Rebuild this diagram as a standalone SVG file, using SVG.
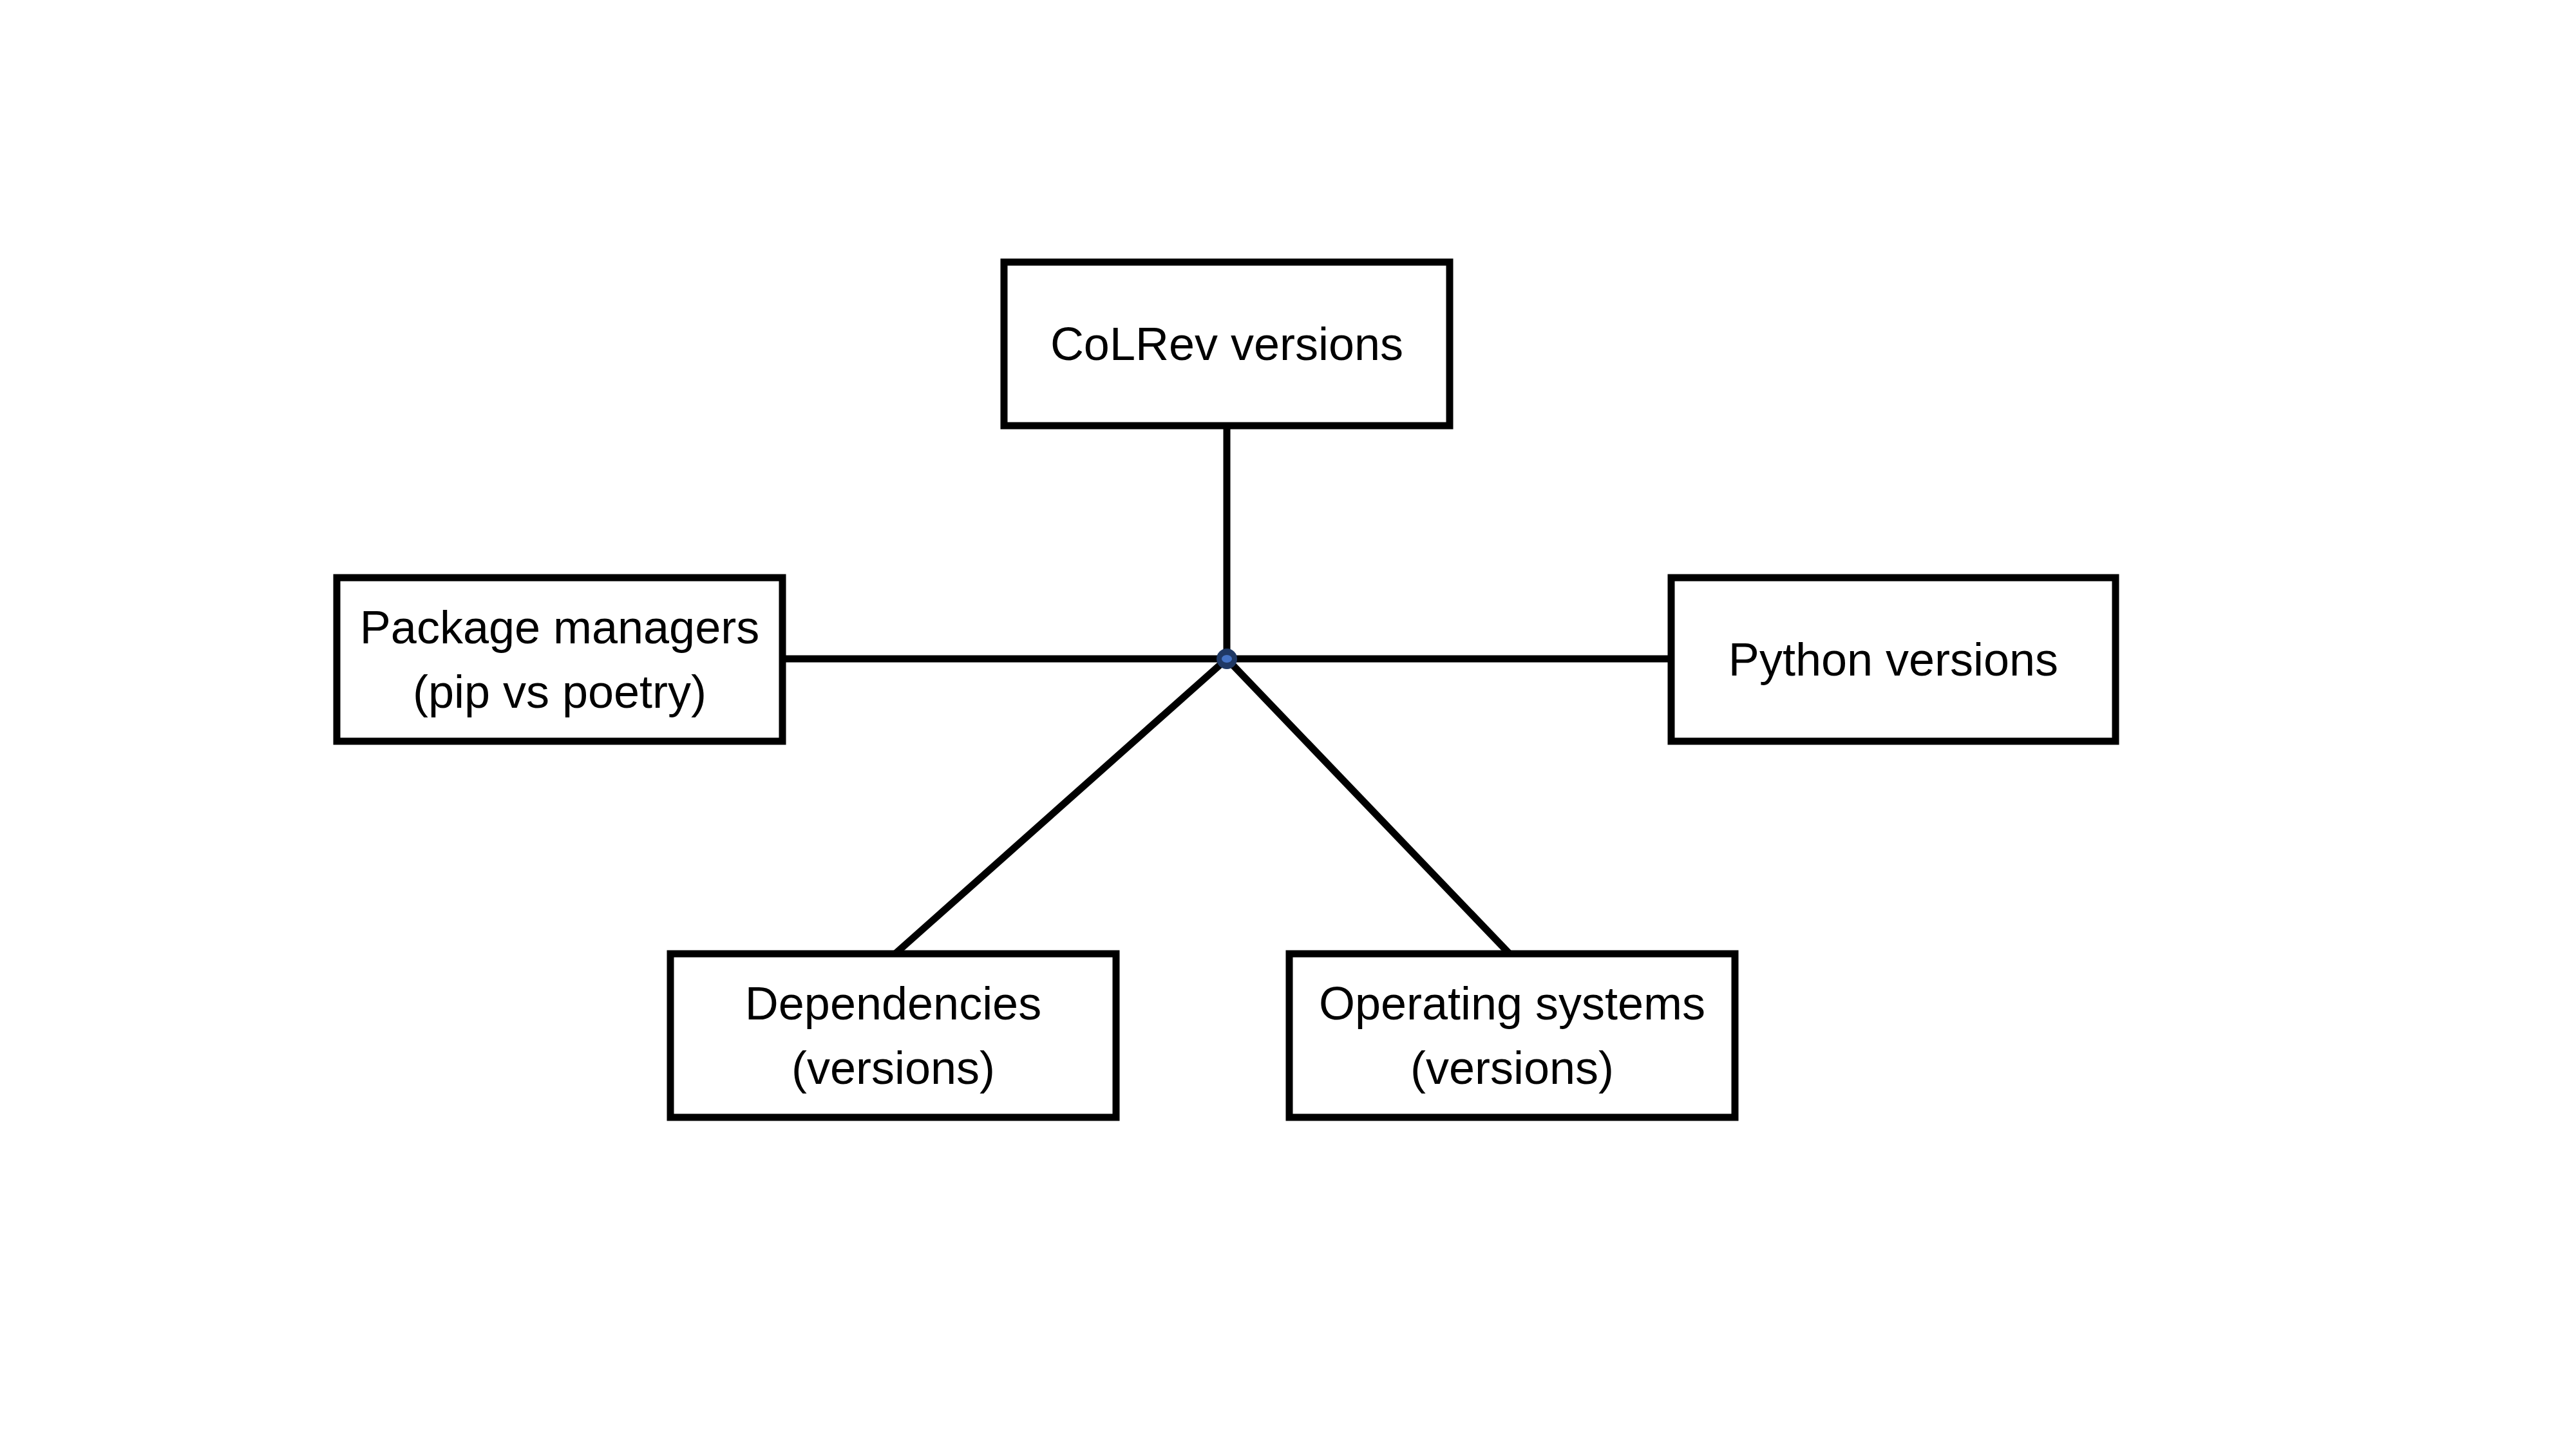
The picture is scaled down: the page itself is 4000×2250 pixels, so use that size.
<svg xmlns="http://www.w3.org/2000/svg" width="4000" height="2250" viewBox="0 0 4000 2250">
  <style>
    .box { fill: #ffffff; stroke: #000000; stroke-width: 11; }
    .lbl { font-family: "Liberation Sans", Arial, sans-serif; font-size: 72px; fill: #000000; text-anchor: middle; }
    .conn { stroke: #000000; stroke-width: 11; fill: none; }
  </style>
  <rect x="0" y="0" width="4000" height="2250" fill="#ffffff"/>
  <g id="connectors">
    <line class="conn" x1="1905" y1="661" x2="1905" y2="1023"/>
    <line class="conn" x1="1215" y1="1023" x2="1905" y2="1023"/>
    <line class="conn" x1="1905" y1="1023" x2="2595" y2="1023"/>
    <line class="conn" x1="1905" y1="1023" x2="1390" y2="1481"/>
    <line class="conn" x1="1905" y1="1023" x2="2344" y2="1481"/>
  </g>
  <g id="hub">
    <circle cx="1905" cy="1023" r="16" fill="#1F3864"/>
    <ellipse cx="1905" cy="1023" rx="8" ry="6" fill="#4472C4"/>
  </g>
  <g id="colrev">
    <rect class="box" x="1559" y="407" width="692" height="254"/>
    <text class="lbl" x="1905" y="559">CoLRev versions</text>
  </g>
  <g id="package-managers">
    <rect class="box" x="523" y="897" width="692" height="254"/>
    <text class="lbl" x="869" y="999">Package managers</text>
    <text class="lbl" x="869" y="1099">(pip vs poetry)</text>
  </g>
  <g id="python">
    <rect class="box" x="2595" y="897" width="690" height="254"/>
    <text class="lbl" x="2940" y="1049">Python versions</text>
  </g>
  <g id="dependencies">
    <rect class="box" x="1041" y="1481" width="692" height="254"/>
    <text class="lbl" x="1387" y="1583">Dependencies</text>
    <text class="lbl" x="1387" y="1683">(versions)</text>
  </g>
  <g id="operating-systems">
    <rect class="box" x="2002" y="1481" width="692" height="254"/>
    <text class="lbl" x="2348" y="1583">Operating systems</text>
    <text class="lbl" x="2348" y="1683">(versions)</text>
  </g>
</svg>
